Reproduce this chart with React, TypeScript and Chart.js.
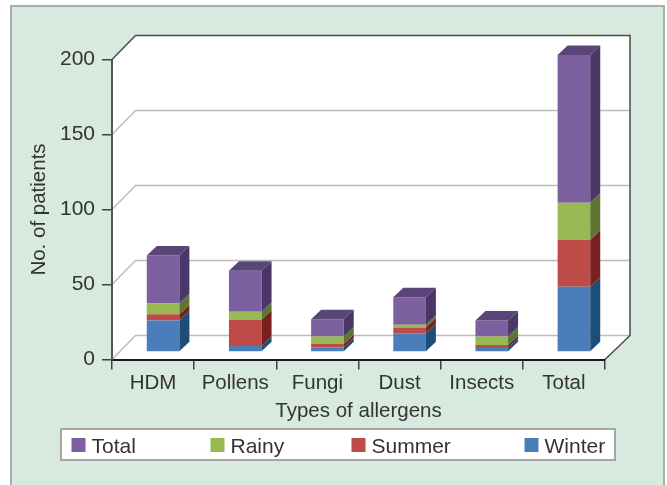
import React, { useEffect, useRef } from "react";
import { Chart, registerables } from "chart.js";

Chart.register(...registerables);

const categories = ["HDM", "Pollens", "Fungi", "Dust", "Insects", "Total"];
const winter = [21, 4, 3, 12.5, 2.7, 43.5];
const summer = [4.2, 17.5, 2.4, 3.8, 2, 31.3];
const rainy = [7.1, 5.3, 4.9, 1.8, 5.6, 24.7];
const total = [32, 27.3, 11.6, 18.4, 10.7, 98.5];

const FONT = "'Liberation Sans', Arial, sans-serif";
const TEXT = "#333333";
const PANEL = "#D8EADF";
const PANEL_EDGE = "#A8ACAA";
const WALL_DX = 23.5;
const WALL_DY = 24;
const BAR_SHIFT_X = 10;
const BAR_SHIFT_Y = 7.5;
const DEPTH_X = 10;
const DEPTH_Y = 9.5;

const seriesStyle = [
  { label: "Winter", data: winter, color: "#4A7EBB", side: "#1D4E78" },
  { label: "Summer", data: summer, color: "#BE4B48", side: "#772221" },
  { label: "Rainy", data: rainy, color: "#98B954", side: "#5C7530" },
  { label: "Total", data: total, color: "#7D60A0", side: "#4A3768", top: "#5A4578" },
];

const legendSwatchX = [71.5, 210.5, 351.5, 524.5];

const sceneryPlugin = {
  id: "scenery",
  beforeDraw(chart: any) {
    const { ctx, chartArea: a, scales } = chart;
    ctx.save();
    ctx.fillStyle = "#FFFFFF";
    ctx.fillRect(0, 0, chart.width, chart.height);
    ctx.fillStyle = PANEL;
    ctx.fillRect(11, 6, 653, 490);
    ctx.strokeStyle = PANEL_EDGE;
    ctx.lineWidth = 2;
    ctx.strokeRect(11, 6, 653, 490);

    const backRight = a.right + 25;
    ctx.fillStyle = "#FFFFFF";
    ctx.beginPath();
    ctx.moveTo(a.left, a.bottom);
    ctx.lineTo(a.left, a.top);
    ctx.lineTo(a.left + WALL_DX, a.top - WALL_DY);
    ctx.lineTo(backRight, a.top - WALL_DY);
    ctx.lineTo(backRight, a.bottom - WALL_DY);
    ctx.lineTo(a.right, a.bottom);
    ctx.closePath();
    ctx.fill();

    ctx.strokeStyle = "#BDBDBD";
    ctx.lineWidth = 1.5;
    for (const tick of scales.y.ticks) {
      if (tick.value === 200) continue;
      const y = scales.y.getPixelForValue(tick.value);
      ctx.beginPath();
      ctx.moveTo(a.left, y);
      ctx.lineTo(a.left + WALL_DX, y - WALL_DY);
      ctx.lineTo(backRight, y - WALL_DY);
      ctx.stroke();
    }
    ctx.strokeStyle = "#4A4A4A";
    ctx.lineWidth = 1.5;
    ctx.beginPath();
    ctx.moveTo(a.left, a.top);
    ctx.lineTo(a.left + WALL_DX, a.top - WALL_DY);
    ctx.lineTo(backRight, a.top - WALL_DY);
    ctx.lineTo(backRight, a.bottom - WALL_DY);
    ctx.lineTo(a.right, a.bottom);
    ctx.stroke();

    // legend frame and entries
    ctx.fillStyle = "#FFFFFF";
    ctx.fillRect(61, 429, 554, 31);
    ctx.strokeStyle = "#A6A6A6";
    ctx.lineWidth = 2;
    ctx.strokeRect(61, 429, 554, 31);
    const entries = [...chart.data.datasets].reverse();
    ctx.font = `21px ${FONT}`;
    ctx.textBaseline = "alphabetic";
    ctx.textAlign = "left";
    entries.forEach((d: any, i: number) => {
      ctx.fillStyle = d.backgroundColor;
      ctx.fillRect(legendSwatchX[i], 438, 14, 14);
      ctx.fillStyle = TEXT;
      ctx.fillText(d.label, legendSwatchX[i] + 20, 453);
    });
    ctx.restore();
  },
  beforeDatasetsDraw(chart: any) {
    chart.ctx.save();
    chart.ctx.translate(BAR_SHIFT_X, -BAR_SHIFT_Y);
  },
  afterDatasetsDraw(chart: any) {
    const { ctx } = chart;
    chart.data.datasets.forEach((d: any, di: number) => {
      const style = seriesStyle[di];
      chart.getDatasetMeta(di).data.forEach((bar: any) => {
        const { x, y, base, width } = bar.getProps(["x", "y", "base", "width"], true);
        const left = x - width / 2;
        const right = x + width / 2;
        ctx.fillStyle = style.side;
        ctx.beginPath();
        ctx.moveTo(right, y);
        ctx.lineTo(right + DEPTH_X, y - DEPTH_Y);
        ctx.lineTo(right + DEPTH_X, base - DEPTH_Y);
        ctx.lineTo(right, base);
        ctx.closePath();
        ctx.fill();
        if (style.top) {
          ctx.fillStyle = style.top;
          ctx.beginPath();
          ctx.moveTo(left, y);
          ctx.lineTo(left + DEPTH_X, y - DEPTH_Y);
          ctx.lineTo(right + DEPTH_X, y - DEPTH_Y);
          ctx.lineTo(right, y);
          ctx.closePath();
          ctx.fill();
        }
      });
    });
    ctx.restore();
  },
};

export default function App() {
  const ref = useRef<HTMLCanvasElement | null>(null);
  useEffect(() => {
    const chart = new Chart(ref.current as HTMLCanvasElement, {
      type: "bar",
      data: {
        labels: categories,
        datasets: seriesStyle.map((s) => ({
          label: s.label,
          data: s.data,
          backgroundColor: s.color,
          borderWidth: 0,
          barPercentage: 1,
          categoryPercentage: 0.397,
          clip: false,
        })),
      },
      plugins: [sceneryPlugin],
      options: {
        responsive: false,
        animation: false,
        layout: { padding: { left: 0, top: 59.5, right: 62, bottom: 61 } },
        plugins: { legend: { display: false }, tooltip: { enabled: false } },
        scales: {
          x: {
            stacked: true,
            afterFit: (s: any) => { s.height = 64.5; },
            grid: { drawOnChartArea: false, color: "#404040", tickColor: "#404040", tickLength: 10, lineWidth: 1.5 },
            border: { color: "#1A1A1A", width: 2 },
            ticks: { color: TEXT, font: { family: FONT, size: 20.5 }, padding: 2, maxRotation: 0, autoSkip: false },
            title: { display: true, text: "Types of allergens", color: TEXT, font: { family: FONT, size: 20.5 }, padding: 0 },
          },
          y: {
            stacked: true,
            min: 0,
            max: 200,
            afterFit: (s: any) => { s.width = 112; },
            grid: { drawOnChartArea: false, color: "#404040", tickColor: "#404040", tickLength: 10, lineWidth: 1.5 },
            border: { color: "#555555", width: 2 },
            ticks: { stepSize: 50, color: TEXT, font: { family: FONT, size: 21 }, padding: 7 },
            title: { display: true, text: "No. of patients", color: TEXT, font: { family: FONT, size: 20.5 }, padding: { top: 27, bottom: 0 } },
          },
        },
      },
    } as any);
    return () => chart.destroy();
  }, []);
  return (
    <div style={{ position: "fixed", left: 0, top: 0, width: 667, height: 485 }}>
      <canvas ref={ref} width={667} height={485} style={{ display: "block" }} />
    </div>
  );
}
